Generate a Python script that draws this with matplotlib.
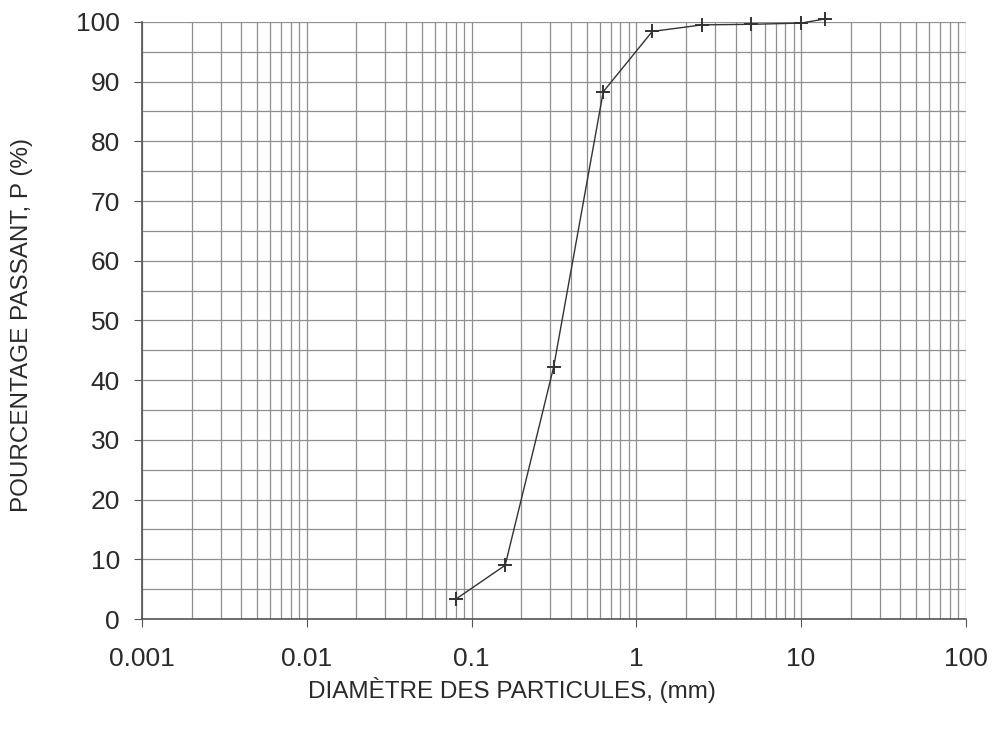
import numpy as np
import matplotlib
matplotlib.use("Agg")
from matplotlib import pyplot as plt
from matplotlib.ticker import LogLocator, FixedLocator, FixedFormatter, MultipleLocator

plt.rcParams['font.family'] = ['Liberation Sans', 'DejaVu Sans']

# diamètre (mm) et pourcentage passant
diametre = [0.08, 0.16, 0.315, 0.63, 1.25, 2.5, 5, 10, 14]
passant = [3.3, 9.0, 42.2, 88.3, 98.4, 99.5, 99.6, 99.8, 100.5]

xticks = [0.001, 0.01, 0.1, 1, 10, 100]
xlabels = ['0.001', '0.01', '0.1', '1', '10', '100']

fig = plt.figure(figsize=(9.95, 7.3), dpi=100)
ax = fig.add_axes([0.1427, 0.152, 0.828, 0.818])

ax.plot(diametre, passant, color='#333333', lw=1.0, marker='+', ms=10, mew=1.4,
        clip_on=False, zorder=3)

ax.set_xscale('log')
ax.set_xlim(0.001, 100)
ax.set_ylim(0, 100)

ax.xaxis.set_major_locator(FixedLocator(xticks))
ax.xaxis.set_major_formatter(FixedFormatter(xlabels))
ax.xaxis.set_minor_locator(LogLocator(base=10, subs=np.arange(2, 10)))
ax.yaxis.set_major_locator(MultipleLocator(10))
ax.yaxis.set_minor_locator(MultipleLocator(5))

ax.grid(which='both', color='#8f8f8f', lw=0.9)
ax.set_axisbelow(True)

for s in ['top', 'right']:
    ax.spines[s].set_visible(False)
for s in ['left', 'bottom']:
    ax.spines[s].set_color('#555555')
    ax.spines[s].set_linewidth(1.2)

ax.tick_params(which='major', direction='out', length=6, color='#555555',
               labelsize=19, labelcolor='#2a2a2a')
ax.tick_params(axis='y', which='major', pad=10)
ax.tick_params(axis='x', which='major', pad=14)
ax.tick_params(which='minor', length=0)

fig.text(512 / 995, 1 - 690 / 730, 'DIAMÈTRE DES PARTICULES, (mm)', fontsize=17.5,
         color='#2a2a2a', ha='center', va='center')
fig.text(22 / 995, 1 - 325 / 730, 'POURCENTAGE PASSANT, P (%)', fontsize=17.5,
         color='#2a2a2a', ha='center', va='center', rotation=90)

fig.savefig('out.png', dpi=100)
